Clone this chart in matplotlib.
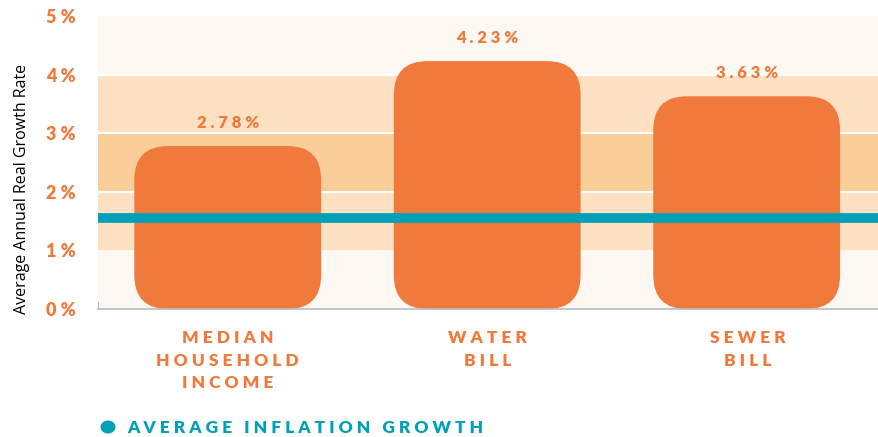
import matplotlib
matplotlib.use('Agg')
import matplotlib.pyplot as plt
from matplotlib.patches import FancyBboxPatch, Rectangle, Ellipse

# data
categories = ['M E D I A N\nH O U S E H O L D\nI N C O M E', 'W A T E R\nB I L L', 'S E W E R\nB I L L']
growth = [2.78, 4.23, 3.63]
value_labels = ['2 . 7 8 %', '4 . 2 3 %', '3 . 6 3 %']
inflation = 1.55
yticks = [0, 1, 2, 3, 4, 5]
ytick_labels = ['0 %', '1 %', '2 %', '3 %', '4 %', '5 %']
band_colors = ['#FEF8F3', '#FDE1C2', '#FBCD98', '#FDE1C2', '#FEF8F3']

orange = '#EF7A3C'
teal = '#00A0B8'
plt.rcParams['font.family'] = ['Lato', 'DejaVu Sans']

fig = plt.figure(figsize=(8.79, 4.37), dpi=100)
ax = fig.add_axes([98 / 879, 1 - 309 / 437, 1 - 98 / 879, (309 - 16) / 437])
ax.set_xlim(-0.5, 2.51)
ax.set_ylim(0, 5)

# background bands
for i, c in enumerate(band_colors):
    ax.add_patch(Rectangle((-0.5, i), 3.1, 1, facecolor=c, edgecolor='none', zorder=0))
for y in [2, 3, 4]:
    ax.axhline(y, color='white', lw=1.5, zorder=1)

# rounded bars
width = 0.72
aspect = 260 / 58.6
for i, v in enumerate(growth):
    box = FancyBboxPatch((i - width / 2, 0), width, v,
                         boxstyle='round,pad=0,rounding_size=0.13',
                         mutation_aspect=aspect,
                         facecolor=orange, edgecolor='none', zorder=2)
    ax.add_patch(box)
    ax.text(i, v + 0.4, value_labels[i], ha='center', va='center',
            color=orange, fontsize=12, fontweight='heavy', zorder=4)

ax.axhline(inflation, color=teal, lw=7, zorder=3)

ax.set_yticks(yticks)
ax.set_yticklabels(ytick_labels, color=orange, fontsize=13, fontweight='heavy')
ax.tick_params(axis='y', length=0, pad=16)
ax.set_xticks([])
ax.set_ylabel('Average Annual Real Growth Rate', fontsize=11.5, color='black',
              family=['Open Sans', 'DejaVu Sans'])
ax.yaxis.set_label_coords(-0.087, 0.41)
for s in ['top', 'right']:
    ax.spines[s].set_visible(False)
ax.spines['left'].set_bounds(0, 0.12)
ax.spines['left'].set_color('#BBBBBB')
ax.spines['bottom'].set_color('#BBBBBB')
ax.spines['bottom'].set_linewidth(1.2)

# category labels
for i, c in enumerate(categories):
    x_px = 227.5 + 260 * i
    fig.text(x_px / 879, 1 - 330 / 437, c, ha='center', va='top', color=orange,
             fontsize=12.5, fontweight='heavy', linespacing=1.5)

# legend
fig.patches.append(Ellipse((108 / 879, 1 - 427 / 437), 15 / 879, 13 / 437,
                           transform=fig.transFigure, facecolor=teal,
                           edgecolor='none', figure=fig))
fig.text(127 / 879, 1 - 428 / 437, 'A V E R A G E   I N F L A T I O N   G R O W T H',
         ha='left', va='center', color=teal, fontsize=12.5, fontweight='heavy')

fig.savefig('out.png', dpi=100)
